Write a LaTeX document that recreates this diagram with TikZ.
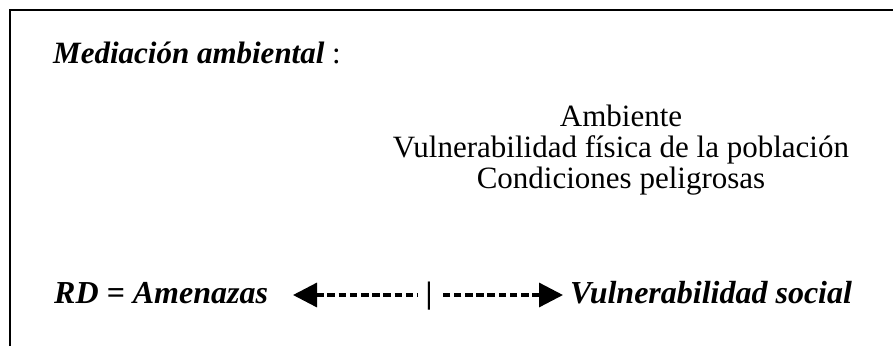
\documentclass[tikz,border=0pt]{standalone}
\usepackage{fontspec}
\setmainfont{Liberation Serif}
\usetikzlibrary{arrows.meta,calc}
\begin{document}
\begin{tikzpicture}[x=1pt,y=-1pt,
  txt/.style={inner sep=0pt,font=\fontsize{31}{31}\selectfont},
  bi/.style={txt,font=\fontsize{31}{31}\selectfont\bfseries\itshape},
  bib/.style={txt,font=\fontsize{32}{32}\selectfont\bfseries\itshape},
  frame/.style={line width=2.5pt,black},
  dashline/.style={line width=3.3pt,dash pattern=on 7.6pt off 3.6pt,
    arrows={Triangle[length=24pt,width=24pt]-}}
]
\useasboundingbox (0,0) rectangle (893,346);
\coordinate (fb) at (10,346);
\coordinate (fc) at (10,10);
\coordinate (fr) at (893,10);
\draw[frame] (fb) -- (fc) -- (fr);

\node[bi,anchor=base west] (title) at (53,63) {Mediación ambiental\textup{\mdseries\ :}};

\node[txt,anchor=base] (l1) at (621,126) {Ambiente};
\node[txt,anchor=base] (l2) at (621,157) {Vulnerabilidad física de la población};
\node[txt,anchor=base] (l3) at (621,188) {Condiciones peligrosas};

\node[bib,anchor=base west] (amen) at (54,303) {RD = Amenazas};
\node[txt,anchor=base,inner xsep=7.6pt] (bar) at (429,303) {\textbf{|}};
\node[bib,anchor=base west] (vuln) at (570,303) {Vulnerabilidad social};

\coordinate (ltip) at (293,295);
\coordinate (rtip) at (563,295);
\draw[dashline] (ltip) -- (bar.west |- ltip);
\draw[dashline] (rtip) -- (bar.east |- rtip);
\end{tikzpicture}
\end{document}
